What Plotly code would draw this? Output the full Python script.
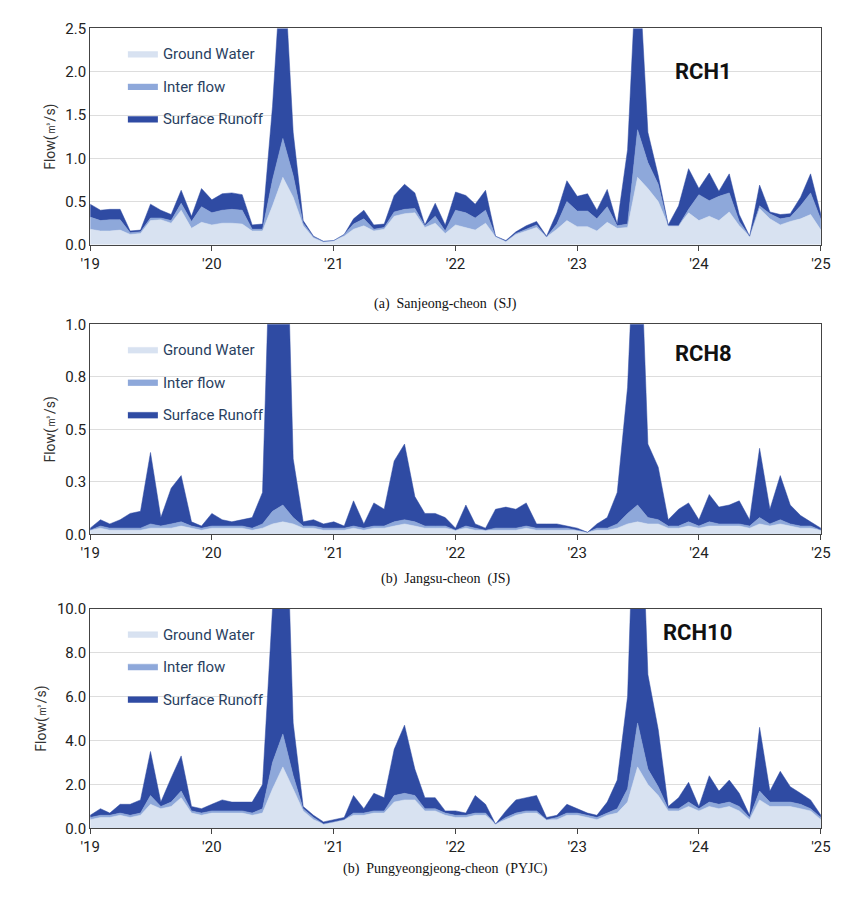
import pandas as pd
import plotly.graph_objects as go

#monthly dates from Jan 2019 to Jan 2025
dates = pd.date_range("2019-01-01", "2025-01-01", freq="MS")

#RCH1 - total flow, ground water, inter flow (m3/s)
rch1_total = [0.47,0.40,0.41,0.41,0.16,0.17,0.47,0.40,0.35,0.63,0.33,0.65,
              0.52,0.59,0.60,0.58,0.23,0.24,1.60,3.50,1.30,0.28,0.10,0.04,
              0.05,0.12,0.30,0.40,0.23,0.24,0.57,0.70,0.60,0.23,0.48,0.23,
              0.61,0.57,0.47,0.63,0.10,0.05,0.15,0.22,0.27,0.10,0.37,0.74,
              0.56,0.59,0.40,0.64,0.24,1.10,3.50,1.30,0.80,0.23,0.45,0.88,
              0.65,0.83,0.62,0.82,0.35,0.10,0.69,0.38,0.35,0.36,0.55,0.82,0.35]
rch1_gw = [0.18,0.16,0.16,0.17,0.12,0.13,0.28,0.29,0.25,0.40,0.19,0.26,
           0.23,0.25,0.25,0.24,0.16,0.16,0.45,0.78,0.55,0.22,0.08,0.03,
           0.05,0.10,0.18,0.22,0.16,0.18,0.33,0.36,0.37,0.20,0.25,0.13,
           0.23,0.20,0.17,0.25,0.09,0.04,0.12,0.16,0.20,0.09,0.18,0.28,
           0.21,0.21,0.16,0.26,0.19,0.20,0.78,0.65,0.50,0.22,0.22,0.37,
           0.28,0.33,0.28,0.38,0.22,0.10,0.42,0.30,0.23,0.27,0.30,0.35,0.17]
rch1_if = [0.14,0.12,0.13,0.12,0.02,0.02,0.03,0.02,0.03,0.08,0.08,0.18,
           0.14,0.15,0.16,0.16,0.02,0.02,0.30,0.45,0.25,0.03,0.01,0.01,
           0.00,0.02,0.06,0.08,0.02,0.02,0.05,0.05,0.05,0.02,0.08,0.03,
           0.17,0.17,0.14,0.15,0.01,0.00,0.01,0.02,0.03,0.00,0.06,0.22,
           0.18,0.18,0.14,0.18,0.03,0.04,0.55,0.30,0.20,0.00,0.00,0.04,
           0.30,0.18,0.28,0.22,0.05,0.00,0.03,0.06,0.07,0.05,0.15,0.25,0.12]

#RCH8
rch8_total = [0.03,0.07,0.05,0.07,0.10,0.11,0.39,0.08,0.22,0.28,0.06,0.04,
              0.10,0.07,0.06,0.07,0.08,0.20,1.80,2.20,0.36,0.06,0.07,0.05,
              0.06,0.04,0.16,0.05,0.15,0.12,0.35,0.43,0.18,0.10,0.10,0.08,
              0.03,0.14,0.05,0.03,0.12,0.13,0.12,0.15,0.05,0.05,0.05,0.04,
              0.03,0.01,0.05,0.08,0.20,0.70,1.80,0.43,0.32,0.07,0.12,0.15,
              0.07,0.19,0.13,0.14,0.16,0.07,0.41,0.12,0.28,0.14,0.09,0.06,0.03]
rch8_gw = [0.02,0.03,0.02,0.02,0.02,0.02,0.03,0.03,0.03,0.04,0.03,0.02,
           0.03,0.03,0.03,0.03,0.02,0.03,0.05,0.06,0.05,0.03,0.03,0.02,
           0.02,0.02,0.03,0.02,0.03,0.03,0.04,0.05,0.04,0.03,0.03,0.03,
           0.02,0.03,0.02,0.02,0.02,0.02,0.02,0.03,0.02,0.02,0.02,0.02,
           0.02,0.01,0.02,0.02,0.03,0.05,0.06,0.05,0.05,0.03,0.03,0.04,
           0.03,0.04,0.04,0.04,0.04,0.03,0.05,0.04,0.05,0.04,0.03,0.03,0.02]
rch8_if = [0.00,0.01,0.01,0.01,0.01,0.01,0.02,0.01,0.02,0.02,0.01,0.01,
           0.01,0.01,0.01,0.01,0.01,0.02,0.06,0.08,0.03,0.01,0.01,0.01,
           0.01,0.01,0.01,0.01,0.01,0.01,0.02,0.02,0.02,0.01,0.01,0.01,
           0.00,0.01,0.01,0.00,0.01,0.01,0.01,0.01,0.01,0.01,0.01,0.01,
           0.00,0.00,0.01,0.01,0.02,0.05,0.08,0.03,0.02,0.01,0.01,0.02,
           0.01,0.02,0.01,0.01,0.01,0.01,0.03,0.01,0.02,0.01,0.01,0.01,0.00]

#RCH10
rch10_total = [0.6,0.9,0.7,1.1,1.1,1.3,3.5,1.2,2.3,3.3,1.0,0.9,
               1.1,1.3,1.2,1.2,1.2,2.0,10.0,20.0,4.8,1.0,0.6,0.3,
               0.4,0.5,1.5,0.9,1.6,1.4,3.6,4.7,2.7,1.4,1.4,0.8,
               0.8,0.7,1.5,1.1,0.2,0.8,1.3,1.4,1.5,0.5,0.6,1.1,
               0.9,0.7,0.6,1.2,2.2,6.0,20.0,7.0,4.5,1.0,1.4,2.1,
               1.0,2.4,1.7,2.2,1.6,0.6,4.6,1.7,2.6,1.9,1.6,1.3,0.6]
rch10_gw = [0.4,0.5,0.5,0.6,0.5,0.6,1.1,0.9,1.0,1.4,0.7,0.6,
            0.7,0.7,0.7,0.7,0.6,0.7,1.8,2.8,1.8,0.8,0.4,0.2,
            0.3,0.4,0.6,0.6,0.7,0.7,1.2,1.3,1.3,0.8,0.8,0.6,
            0.5,0.5,0.6,0.6,0.2,0.4,0.6,0.7,0.7,0.4,0.4,0.6,
            0.6,0.5,0.4,0.6,0.7,1.2,2.8,2.0,1.5,0.8,0.8,1.0,
            0.8,1.0,0.9,1.0,0.8,0.4,1.3,1.0,1.0,1.0,0.9,0.8,0.4]
rch10_if = [0.1,0.1,0.1,0.1,0.1,0.1,0.4,0.1,0.2,0.3,0.1,0.1,
            0.1,0.1,0.1,0.1,0.1,0.2,1.2,1.5,0.6,0.1,0.1,0.0,
            0.0,0.0,0.1,0.1,0.1,0.1,0.3,0.3,0.2,0.1,0.1,0.1,
            0.1,0.1,0.1,0.1,0.0,0.1,0.1,0.1,0.1,0.0,0.1,0.1,
            0.1,0.1,0.1,0.1,0.2,0.6,2.0,0.7,0.4,0.1,0.1,0.2,
            0.1,0.2,0.2,0.2,0.2,0.1,0.4,0.2,0.2,0.2,0.2,0.1,0.1]

colors = {"Surface Runoff": "#2f4ba3", "Inter flow": "#8ea8da", "Ground Water": "#d8e2f1"}

fig = go.Figure()

def add_panel(n, total, gw, inter, ymax, tickvals, ticktext, domain, name, name_y, caption, caption_y):
    # stacked areas: ground water, inter flow, surface runoff on top
    xa = "x" if n == 1 else "x%d" % n
    ya = "y" if n == 1 else "y%d" % n
    leg = "legend" if n == 1 else "legend%d" % n
    df = pd.DataFrame({"date": dates, "Ground Water": gw, "Inter flow": inter, "total": total})
    df["Surface Runoff"] = df["total"] - df["Ground Water"] - df["Inter flow"]
    for col in ["Ground Water", "Inter flow", "Surface Runoff"]:
        fig.add_trace(go.Scatter(x=df["date"], y=df[col], name=col, mode="lines",
                                 stackgroup="s%d" % n, line=dict(width=0.5, color=colors[col]),
                                 fillcolor=colors[col], xaxis=xa, yaxis=ya, legend=leg,
                                 legendgroup="%s%d" % (col, n)))
    fig.layout[xa.replace("x", "xaxis")] = dict(
        domain=[0.086, 0.957], anchor=ya, type="date",
        range=[dates[0], dates[-1]], dtick="M12", tick0="2019-01-01", tickformat="'%y",
        ticks="outside", ticklen=5, showline=True, linecolor="#444", mirror=True,
        showgrid=False, tickfont=dict(size=15, family="Roboto", color="#222"))
    fig.layout[ya.replace("y", "yaxis")] = dict(
        domain=domain, anchor=xa, range=[0, ymax], tickvals=tickvals, ticktext=ticktext,
        showline=True, linecolor="#444", mirror=True, gridcolor="#dddddd",
        title=dict(text="Flow(㎥/s)", font=dict(size=14, family="Roboto", color="#333"), standoff=6),
        tickfont=dict(size=15, family="Roboto", color="#222"))
    fig.layout[leg] = dict(x=0.125, y=domain[1] - 0.01, xanchor="left", yanchor="top",
                           traceorder="reversed+grouped", bgcolor="rgba(0,0,0,0)",
                           font=dict(size=15, family="Roboto"), tracegroupgap=10, itemwidth=30)
    fig.add_annotation(text="<b>%s</b>" % name, x=0.853, y=name_y, xref="paper", yref="paper",
                       showarrow=False, font=dict(size=22, family="Roboto", color="#111"))
    fig.add_annotation(text=caption, x=0.51, y=caption_y, xref="paper", yref="paper",
                       showarrow=False, font=dict(size=14, family="Liberation Serif", color="#111"))

add_panel(1, rch1_total, rch1_gw, rch1_if, 2.5, [0, 0.5, 1, 1.5, 2, 2.5],
          ["0.0", "0.5", "1.0", "1.5", "2.0", "2.5"], [0.742, 0.987], "RCH1", 0.955,
          "(a)  Sanjeong-cheon  (SJ)", 0.686)
add_panel(2, rch8_total, rch8_gw, rch8_if, 1.0, [0, 0.25, 0.5, 0.75, 1.0],
          ["0.0", "0.3", "0.5", "0.8", "1.0"], [0.414, 0.652], "RCH8", 0.619,
          "(b)  Jangsu-cheon  (JS)", 0.364)
add_panel(3, rch10_total, rch10_gw, rch10_if, 10, [0, 2, 4, 6, 8, 10],
          ["0.0", "2.0", "4.0", "6.0", "8.0", "10.0"], [0.081, 0.330], "RCH10", 0.286,
          "(b)  Pungyeongjeong-cheon  (PYJC)", 0.024)

fig.update_layout(width=859, height=901, margin=dict(l=0, r=0, t=0, b=0),
                  plot_bgcolor="white", paper_bgcolor="white")

fig.write_html("out.html")
